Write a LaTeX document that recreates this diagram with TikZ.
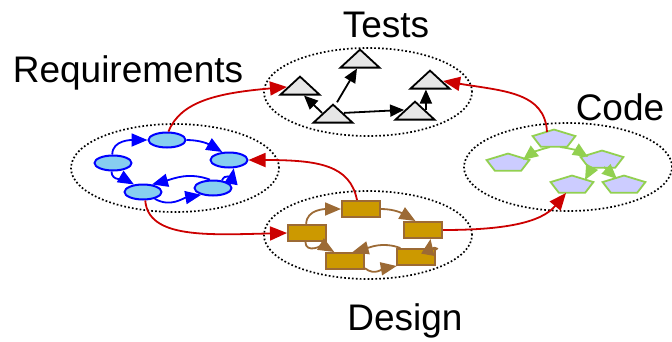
\documentclass[tikz,border=0pt]{standalone}
\usepackage{fontspec}
\setmainfont{Liberation Sans}
\usetikzlibrary{shapes.geometric,arrows.meta}
\definecolor{reqfill}{HTML}{87CEF0}
\definecolor{reqline}{HTML}{0000FF}
\definecolor{desfill}{HTML}{CC9900}
\definecolor{desline}{HTML}{9C6A35}
\definecolor{codefill}{HTML}{CCCCFF}
\definecolor{codeline}{HTML}{92D050}
\definecolor{tstfill}{HTML}{E6E6E6}
\definecolor{flow}{HTML}{CC0000}
\tikzset{
  area/.style={ellipse, draw=black, line width=1.7pt, dash pattern=on 1.7pt off 2.2pt,
    minimum width=208pt, minimum height=88pt, inner sep=0pt},
  title/.style={font=\fontsize{37}{37}\selectfont, anchor=base, inner sep=0pt},
  reqnode/.style={ellipse, draw=reqline, fill=reqfill, line width=2pt,
    minimum width=37pt, minimum height=15pt, inner sep=0pt},
  desnode/.style={rectangle, draw=desline, fill=desfill, line width=2pt,
    minimum width=38pt, minimum height=16pt, inner sep=0pt},
  tstnode/.style={isosceles triangle, shape border rotate=90, isosceles triangle stretches,
    draw=black, fill=tstfill, line width=1.8pt, minimum width=39pt, minimum height=18pt, inner sep=0pt},
  codenode/.style={regular polygon, regular polygon sides=5, draw=codeline, fill=codefill,
    line width=1.8pt, minimum size=45pt, inner sep=0pt, yscale=0.42, transform shape},
  reqarrow/.style={draw=reqline, line width=1.8pt, -{Triangle[length=16pt,width=13pt]}},
  desarrow/.style={draw=desline, line width=1.8pt, -{Triangle[length=16pt,width=13pt]}},
  tstarrow/.style={draw=black, line width=1.8pt, -{Triangle[length=14pt,width=12pt]}},
  codearrow/.style={draw=codeline, line width=1.8pt, -{Triangle[length=15pt,width=13pt]}},
  flowarrow/.style={draw=flow, line width=1.8pt, -{Triangle[length=17pt,width=14pt]}},
}
\begin{document}
\begin{tikzpicture}[x=1pt,y=1pt]
\useasboundingbox (0,0) rectangle (672,-341);

% dotted regions
\node[area] (reqArea) at (175,-168) {};
\node[area] (tstArea) at (368,-92) {};
\node[area] (desArea) at (368,-235) {};
\node[area] (codeArea) at (568,-167) {};

% titles
\node[title] (tstTitle) at (386,-37) {Tests};
\node[title] (reqTitle) at (128,-82) {Requirements};
\node[title] (codeTitle) at (620,-120) {Code};
\node[title] (desTitle) at (405,-330) {Design};

% requirements
\node[reqnode] (rT)  at (167,-140) {};
\node[reqnode] (rL)  at (113,-163) {};
\node[reqnode] (rR)  at (229,-160) {};
\node[reqnode] (rBL) at (143,-192) {};
\node[reqnode] (rBR) at (213,-188) {};
\draw[reqarrow] (rL.95) to[out=90,in=180] (rT.west);
\draw[reqarrow] (rT.east) to[out=0,in=150] (rR.130);
\draw[reqarrow] (rBR.40) to[out=70,in=-100] (rR.-60);
\draw[reqarrow] (rBR.110) to[out=160,in=15] (rBL.40);
\draw[reqarrow] (rBL.-30) to[out=-30,in=190] (rBR.-150);
\draw[reqarrow] (rL.-100) to[out=-90,in=150] (rBL.140);

% design
\node[desnode] (dT)  at (361,-209) {};
\node[desnode] (dL)  at (307,-233) {};
\node[desnode] (dR)  at (423,-230) {};
\node[desnode] (dBL) at (345,-261) {};
\node[desnode] (dBR) at (416,-257) {};
\draw[desarrow] (dL.95) to[out=90,in=180] (dT.west);
\draw[desarrow] (dT.east) to[out=0,in=150] (dR.130);
\draw[desarrow] (dBR.20) to[out=10,in=-100] (dR.-50);
\draw[desarrow] (dBR.150) to[out=160,in=15] (dBL.50);
\draw[desarrow] (dBL.-20) to[out=-40,in=190] (dBR.-155);
\draw[desarrow] (dL.-100) to[out=-90,in=150] (dBL.140);

% tests
\node[tstnode] (tTL) at (300,-87) {};
\node[tstnode] (tTop) at (360,-60) {};
\node[tstnode] (tBC) at (333,-115) {};
\node[tstnode] (tBR) at (415,-112) {};
\node[tstnode] (tRT) at (430,-81) {};
\draw[tstarrow] (tBC.left side) -- ([xshift=4pt]tTL.lower side);
\draw[tstarrow] ([xshift=4pt]tBC.apex) -- ([xshift=-3pt]tTop.lower side);
\draw[tstarrow] (tBC.right side) -- (tBR.left side);
\draw[tstarrow] (tBR.right side) -- (tBR.right side |- tRT.lower side);

% code
\node[codenode] (cT)  at (554,-139) {};
\node[codenode] (cL)  at (508,-163) {};
\node[codenode] (cMR) at (602,-160) {};
\node[codenode] (cBL) at (572,-185) {};
\node[codenode] (cBR) at (624,-185) {};
\draw[codearrow] ([shift={(-4,-8)}]cT.center) to[bend right=12] ([shift={(15,3)}]cL.center);
\draw[codearrow] ([shift={(6,-8)}]cT.center) to[bend left=12] ([shift={(-14,3)}]cMR.center);
\draw[codearrow] ([shift={(-10,-7)}]cMR.center) -- ([shift={(13,5)}]cBL.center);
\draw[codearrow] ([shift={(2,-7)}]cMR.center) -- ([shift={(-7,6)}]cBR.center);

% flow between areas
\draw[flowarrow] (rT.80) .. controls +(12,30) and +(-70,-6) .. (tTL.west);
\draw[flowarrow] ([xshift=-4pt]dT.north) .. controls +(-7,35) and +(70,0) .. (rR.east);
\draw[flowarrow] (rBL.-75) .. controls +(3,-38) and +(-80,-2) .. (dL.west);
\draw[flowarrow] (dR.east) .. controls +(60,0) and +(-25,-30) .. ([shift={(-6,-8)}]cBL.center);
\draw[flowarrow] ([shift={(-7,7)}]cT.center) .. controls +(-2,40) and +(60,-10) .. (tRT.east);
\end{tikzpicture}
\end{document}
